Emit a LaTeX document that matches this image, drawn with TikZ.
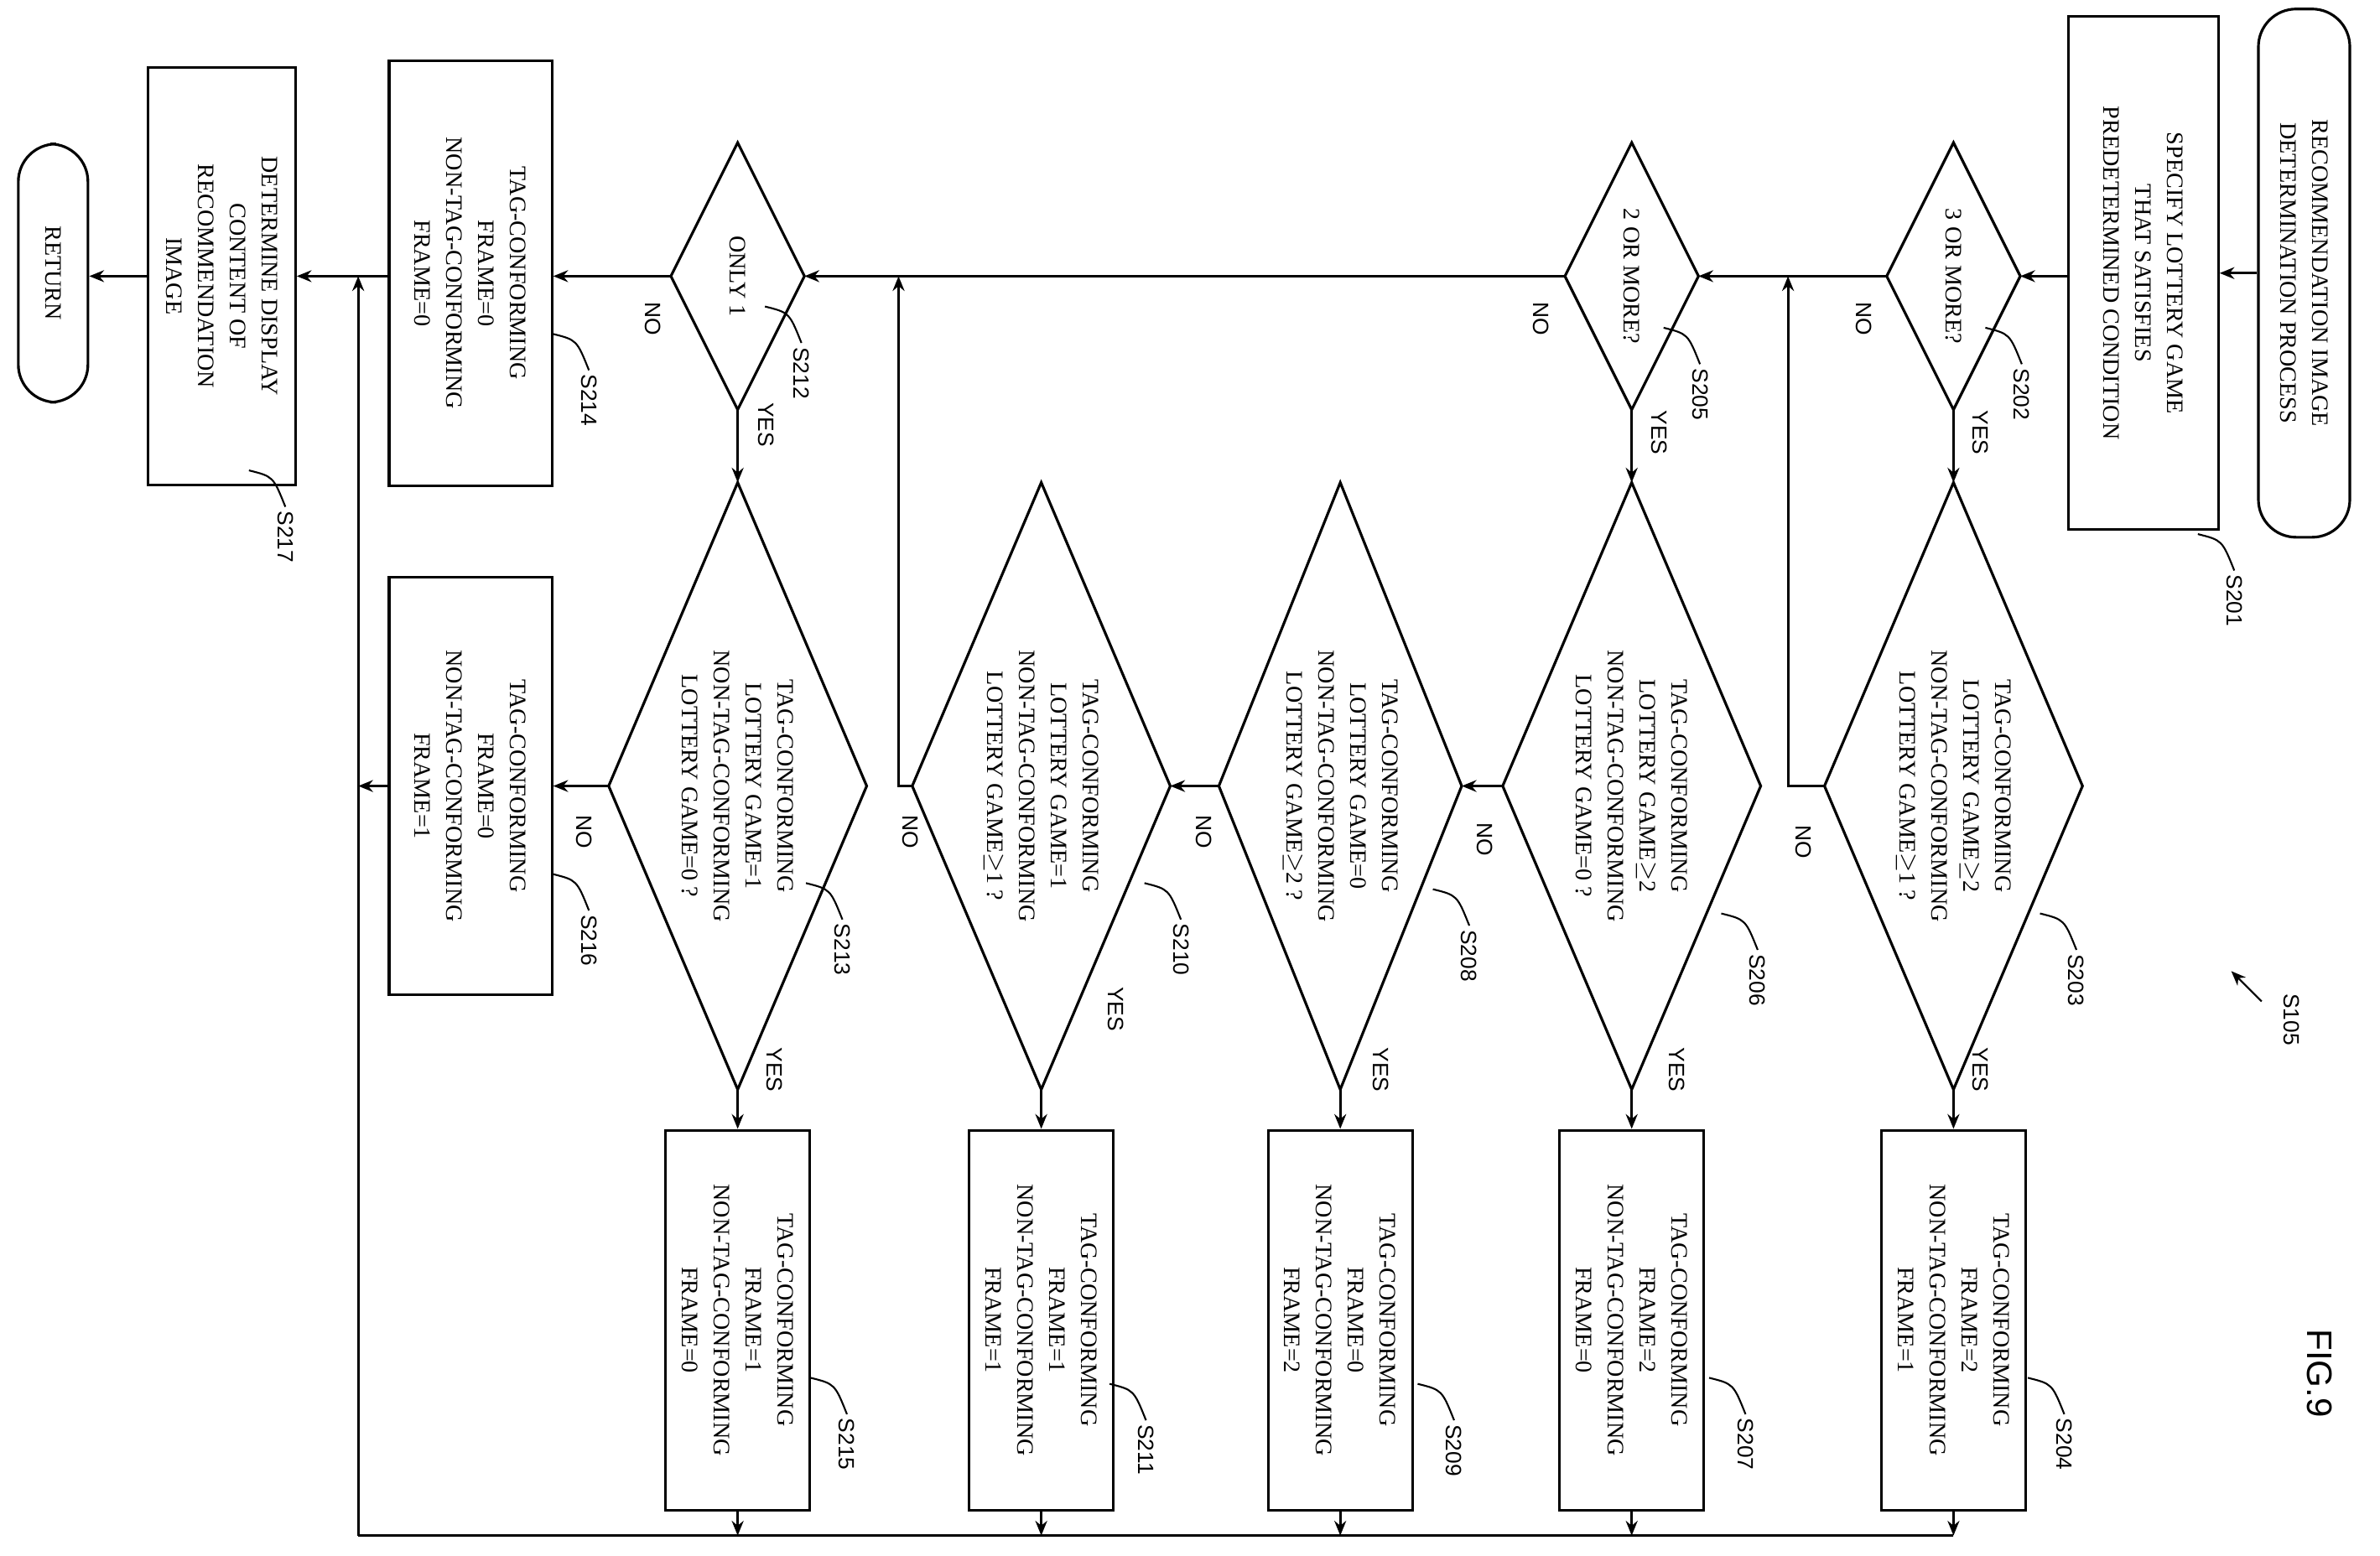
\documentclass[tikz,border=0pt]{standalone}
\usepackage{fontspec}
\setmainfont{Liberation Serif}
\setsansfont{Liberation Sans}
\usetikzlibrary{arrows.meta}
\begin{document}
\begin{tikzpicture}[x=0.0181cm,y=-0.0181cm,line width=0.9pt,
  >={Stealth[length=5pt,width=4pt]},
  txt/.style={rotate=-90,align=center,font=\fontsize{8}{10.8}\selectfont,inner sep=0pt},
  box/.style={txt,draw,rectangle},
  term/.style={txt,draw,rectangle,rounded corners=0.45cm},
  lab/.style={rotate=-90,font=\sffamily\fontsize{7.5}{9}\selectfont,inner sep=1pt},
  yn/.style={rotate=-90,font=\sffamily\fontsize{7.5}{9}\selectfont,inner sep=1pt}]
\useasboundingbox (0,0) rectangle (1568,1025);
\newcommand\dia[6]{%
 \draw (#2+#4,#3)--(#2,#3+#5)--(#2-#4,#3)--(#2,#3-#5)--cycle;
 \coordinate (#1r) at (#2+#4,#3); \coordinate (#1l) at (#2-#4,#3);
 \coordinate (#1t) at (#2,#3-#5); \coordinate (#1b) at (#2,#3+#5);
 \node[txt] (#1) at (#2,#3) {#6};}
\newcommand\slab[3]{\node[lab,anchor=west] (l#3) at (#1+10,#2+4) {#3};
 \draw[line width=0.6pt] (#1-14,#2-20) .. controls (#1+2,#2-16) .. (l#3.west);}
% start / S201
\node[term,minimum width=6.3cm,minimum height=1.09cm] (st) at (1518,180) {RECOMMENDATION IMAGE\\DETERMINATION PROCESS};
\node[box,minimum width=6.12cm,minimum height=1.79cm] (s201) at (1412,180) {SPECIFY LOTTERY GAME\\THAT SATISFIES\\PREDETERMINED CONDITION};
% small diamonds
\dia{d202}{1287}{182}{44}{88}{3 OR MORE?}
\dia{d205}{1075}{182}{44}{88}{2 OR MORE?}
\dia{d212}{486}{182}{44}{88}{ONLY 1}
% big diamonds
\dia{d203}{1287}{518}{85}{200}{TAG-CONFORMING\\LOTTERY GAME$\geq$2\\NON-TAG-CONFORMING\\LOTTERY GAME$\geq$1 ?}
\dia{d206}{1075}{518}{85}{200}{TAG-CONFORMING\\LOTTERY GAME$\geq$2\\NON-TAG-CONFORMING\\LOTTERY GAME=0 ?}
\dia{d208}{883}{518}{80}{200}{TAG-CONFORMING\\LOTTERY GAME=0\\NON-TAG-CONFORMING\\LOTTERY GAME$\geq$2 ?}
\dia{d210}{686}{518}{85}{200}{TAG-CONFORMING\\LOTTERY GAME=1\\NON-TAG-CONFORMING\\LOTTERY GAME$\geq$1 ?}
\dia{d213}{486}{518}{85}{200}{TAG-CONFORMING\\LOTTERY GAME=1\\NON-TAG-CONFORMING\\LOTTERY GAME=0 ?}
% result boxes
\tikzset{rb/.style={box,minimum width=4.53cm,minimum height=1.72cm}}
\node[rb] (s204) at (1287,870) {TAG-CONFORMING\\FRAME=2\\NON-TAG-CONFORMING\\FRAME=1};
\node[rb] (s207) at (1075,870) {TAG-CONFORMING\\FRAME=2\\NON-TAG-CONFORMING\\FRAME=0};
\node[rb] (s209) at (883,870) {TAG-CONFORMING\\FRAME=0\\NON-TAG-CONFORMING\\FRAME=2};
\node[rb] (s211) at (686,870) {TAG-CONFORMING\\FRAME=1\\NON-TAG-CONFORMING\\FRAME=1};
\node[rb] (s215) at (486,870) {TAG-CONFORMING\\FRAME=1\\NON-TAG-CONFORMING\\FRAME=0};
\node[box,minimum width=5.07cm,minimum height=1.94cm] (s214) at (310,180) {TAG-CONFORMING\\FRAME=0\\NON-TAG-CONFORMING\\FRAME=0};
\node[box,minimum width=4.98cm,minimum height=1.94cm] (s216) at (310,518) {TAG-CONFORMING\\FRAME=0\\NON-TAG-CONFORMING\\FRAME=1};
\node[box,minimum width=4.98cm,minimum height=1.76cm] (s217) at (146,182) {DETERMINE DISPLAY\\CONTENT OF\\RECOMMENDATION\\IMAGE};
\node[term,minimum width=3.08cm,minimum height=0.83cm] (ret) at (35,180) {RETURN};
% main flow
\draw[->] (st) -- (st -| s201.north);
\draw[->] (s201.south |- d202r) -- (d202r);
\draw[->] (d202l) -- (d205r);
\draw[->] (d205l) -- (d212r);
\draw[->] (d212l) -- (s214.north |- d212l);
\draw[->] (s214.south |- d212l) -- (s217.north |- d212l);
\draw[->] (s217.south |- d212l) -- (ret.north |- d212l);
% yes branches
\draw[->] (d202b) -- (d203t);
\draw[->] (d205b) -- (d206t);
\draw[->] (d212b) -- (d213t);
\draw[->] (d203b) -- (s204);
\draw[->] (d206b) -- (s207);
\draw[->] (d208b) -- (s209);
\draw[->] (d210b) -- (s211);
\draw[->] (d213b) -- (s215);
% no branches
\coordinate (j1) at (1178,182); \coordinate (j2) at (592,182);
\draw[->] (d203l) -| (j1);
\draw[->] (d206l) -- (d208r);
\draw[->] (d208l) -- (d210r);
\draw[->] (d210l) -| (j2);
\draw[->] (d213l) -- (s216.north |- d213l);
% bottom collect
\coordinate (b1) at (1287,1012); \coordinate (b2) at (1075,1012);
\coordinate (b3) at (883,1012); \coordinate (b4) at (686,1012);
\coordinate (b5) at (486,1012); \coordinate (bc) at (236,1012);
\coordinate (j3) at (236,182); \coordinate (j4) at (236,518);
\foreach \n/\b in {s204/b1,s207/b2,s209/b3,s211/b4,s215/b5} \draw[->] (\n) -- (\b);
\draw (b1) -- (bc);
\draw[->] (bc) -- (j3);
\draw[->] (s216.south |- j4) -- (j4);
% yes/no labels
\node[yn] at (1228,210) {NO}; \node[yn] at (1015,210) {NO}; \node[yn] at (430,210) {NO};
\node[yn] at (1188,555) {NO}; \node[yn] at (978,553) {NO}; \node[yn] at (793,548) {NO};
\node[yn] at (600,548) {NO}; \node[yn] at (385,548) {NO};
\node[yn] at (1305,285) {YES}; \node[yn] at (1093,285) {YES}; \node[yn] at (505,280) {YES};
\node[yn] at (1305,705) {YES}; \node[yn] at (1105,705) {YES}; \node[yn] at (910,705) {YES};
\node[yn] at (735,665) {YES}; \node[yn] at (510,705) {YES};
% step labels
\slab{1462}{372}{S201}\slab{1322}{236}{S202}\slab{1358}{622}{S203}\slab{1350}{928}{S204}
\slab{1110}{236}{S205}\slab{1148}{622}{S206}\slab{1140}{928}{S207}\slab{958}{606}{S208}
\slab{948}{932}{S209}\slab{768}{602}{S210}\slab{745}{932}{S211}\slab{518}{222}{S212}
\slab{545}{602}{S213}\slab{378}{240}{S214}\slab{548}{928}{S215}\slab{378}{596}{S216}
\slab{178}{330}{S217}
\node[lab,anchor=west] (s105) at (1510,652) {S105};
\draw[->,line width=0.6pt] (1490,660) -- (1470,640);
\node[rotate=-90,font=\sffamily\fontsize{12}{14}\selectfont] (fig) at (1528,905) {FIG.9};
\end{tikzpicture}
\end{document}
